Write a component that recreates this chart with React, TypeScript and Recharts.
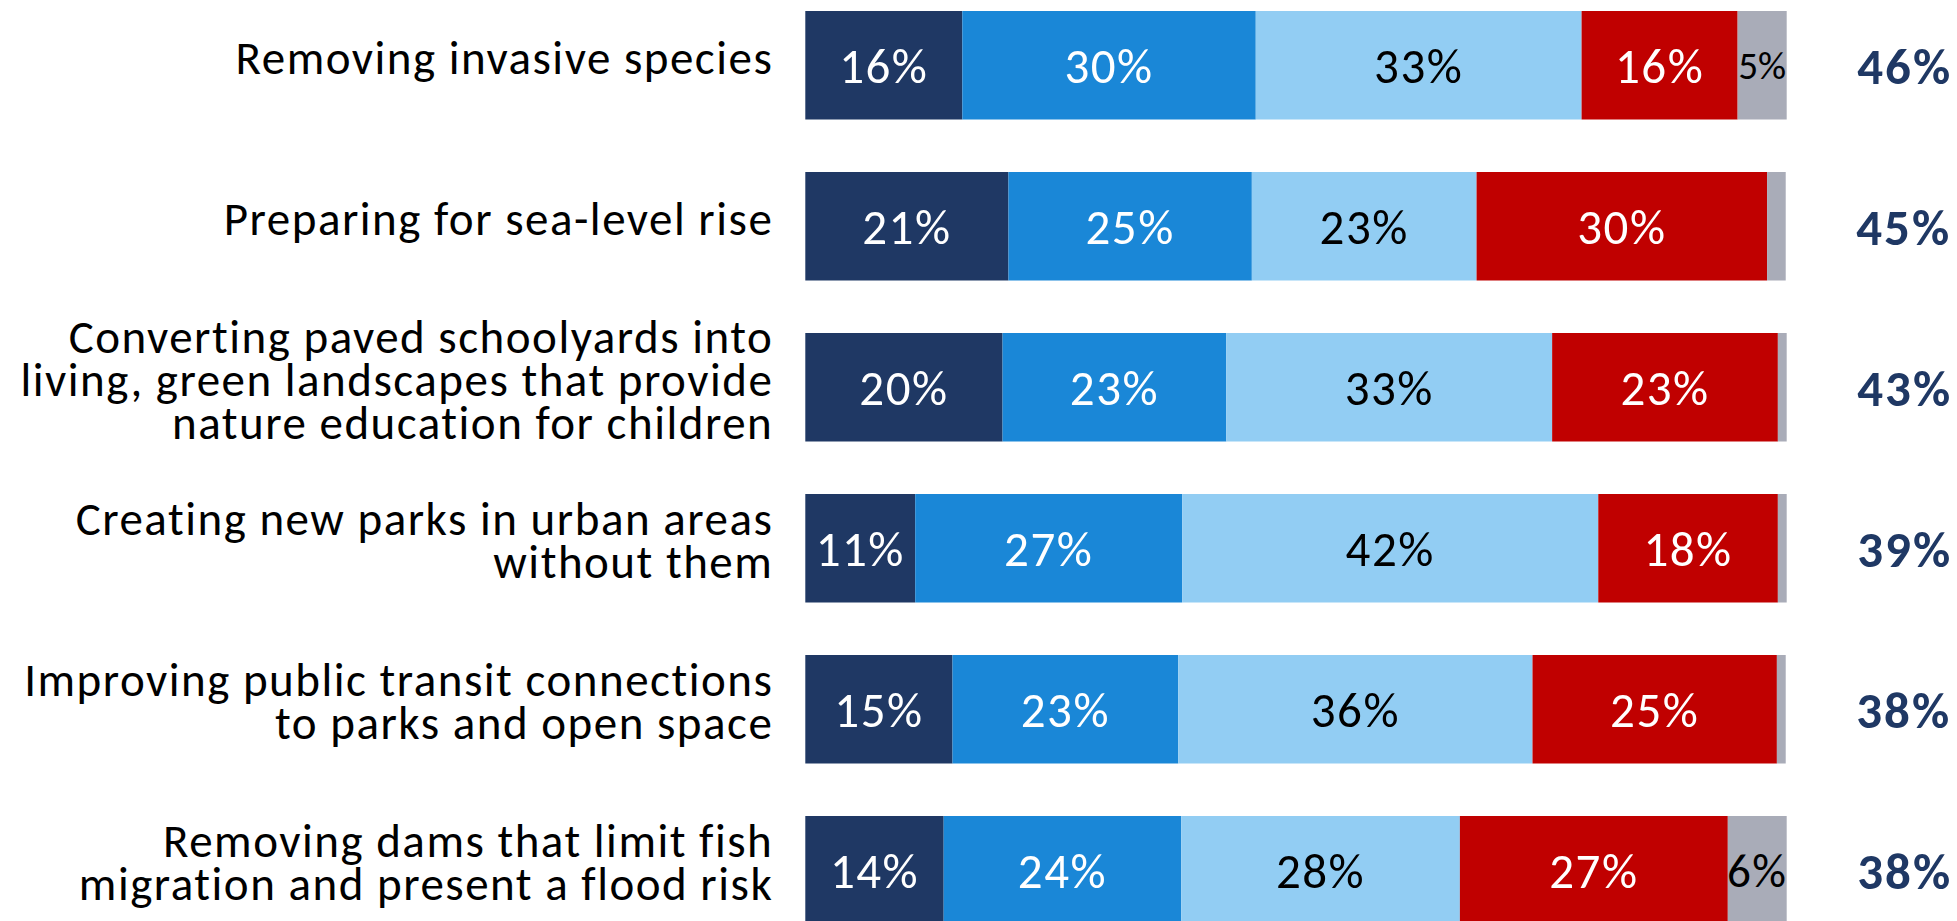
import { Bar, BarChart, LabelList, XAxis, YAxis } from "recharts";

const categories = [
	"Removing invasive species",
	"Preparing for sea-level rise",
	"Converting paved schoolyards into\nliving, green landscapes that provide\nnature education for children",
	"Creating new parks in urban areas\nwithout them",
	"Improving public transit connections\nto parks and open space",
	"Removing dams that limit fish\nmigration and present a flood risk",
];

const strongly = [16, 20.7, 20.1, 11.2, 15, 14.1];
const somewhat = [29.9, 24.8, 22.8, 27.2, 23, 24.2];
const middle = [33.2, 22.9, 33.2, 42.4, 36.1, 28.4];
const oppose = [15.9, 29.6, 23, 18.3, 24.9, 27.3];
const unsure = [5, 1.9, 0.9, 0.9, 0.9, 6];
const totals = ["46%", "45%", "43%", "39%", "38%", "38%"];

const FONT = "Carlito, Calibri, Lato, sans-serif";

const data = categories.map((name, i) => ({
	name,
	strongly: strongly[i],
	somewhat: somewhat[i],
	middle: middle[i],
	oppose: oppose[i],
	unsure: unsure[i],
	total: totals[i],
}));

function CategoryTick({ x, y, payload }: any) {
	const lines = String(payload.value).split("\n");
	const lh = 43;
	return (
		<text
			x={x}
			y={y}
			textAnchor="end"
			fontFamily={FONT}
			fontSize={47}
			letterSpacing={1.5}
			fill="#000"
		>
			{lines.map((line, i) => (
				<tspan key={i} x={x} y={y + 8 + (i - (lines.length - 1) / 2) * lh}>
					{line}
				</tspan>
			))}
		</text>
	);
}

function segmentLabel(color: string) {
	return (props: any) => {
		const { x, y, width, height, value } = props;
		if (value == null || value < 3) return null;
		const size = Math.min(49, width / 1.25);
		return (
			<text
				x={x + width / 2}
				y={y + height / 2 + size * 0.36}
				textAnchor="middle"
				fontFamily={FONT}
				fontSize={size}
				letterSpacing={size > 45 ? 1.5 : 0}
				fill={color}
			>
				{`${Math.round(value)}%`}
			</text>
		);
	};
}

function totalLabel(props: any) {
	const { x, y, width, height, index } = props;
	return (
		<text
			x={x + width + 118}
			y={y + height / 2 + 19}
			textAnchor="middle"
			fontFamily={FONT}
			fontWeight="bold"
			fontSize={51}
			letterSpacing={2}
			fill="#1F3864"
		>
			{totals[index]}
		</text>
	);
}

export default function App() {
	return (
		<div
			style={{
				position: "fixed",
				left: 0,
				top: 0,
				width: 1957,
				height: 921,
				overflow: "hidden",
				background: "#fff",
			}}
		>
			<div style={{ position: "absolute", left: 0, top: -15.5 }}>
				<BarChart
					width={1957}
					height={966}
					data={data}
					layout="vertical"
					margin={{ top: 0, right: 170.3, bottom: 0, left: 0 }}
				>
					<XAxis type="number" domain={[0, 100]} hide />
					<YAxis
						type="category"
						dataKey="name"
						width={805.3}
						axisLine={false}
						tickLine={false}
						tickSize={0}
						tickMargin={32}
						interval={0}
						tick={<CategoryTick />}
					/>
					<Bar dataKey="strongly" stackId="a" fill="#1F3864" barSize={108.5} isAnimationActive={false}>
						<LabelList dataKey="strongly" content={segmentLabel("#fff")} />
					</Bar>
					<Bar dataKey="somewhat" stackId="a" fill="#1A87D7" barSize={108.5} isAnimationActive={false}>
						<LabelList dataKey="somewhat" content={segmentLabel("#fff")} />
					</Bar>
					<Bar dataKey="middle" stackId="a" fill="#92CDF3" barSize={108.5} isAnimationActive={false}>
						<LabelList dataKey="middle" content={segmentLabel("#000")} />
					</Bar>
					<Bar dataKey="oppose" stackId="a" fill="#C00000" barSize={108.5} isAnimationActive={false}>
						<LabelList dataKey="oppose" content={segmentLabel("#fff")} />
					</Bar>
					<Bar dataKey="unsure" stackId="a" fill="#A9ACB8" barSize={108.5} isAnimationActive={false}>
						<LabelList dataKey="unsure" content={segmentLabel("#000")} />
						<LabelList dataKey="total" content={totalLabel} />
					</Bar>
				</BarChart>
			</div>
		</div>
	);
}
